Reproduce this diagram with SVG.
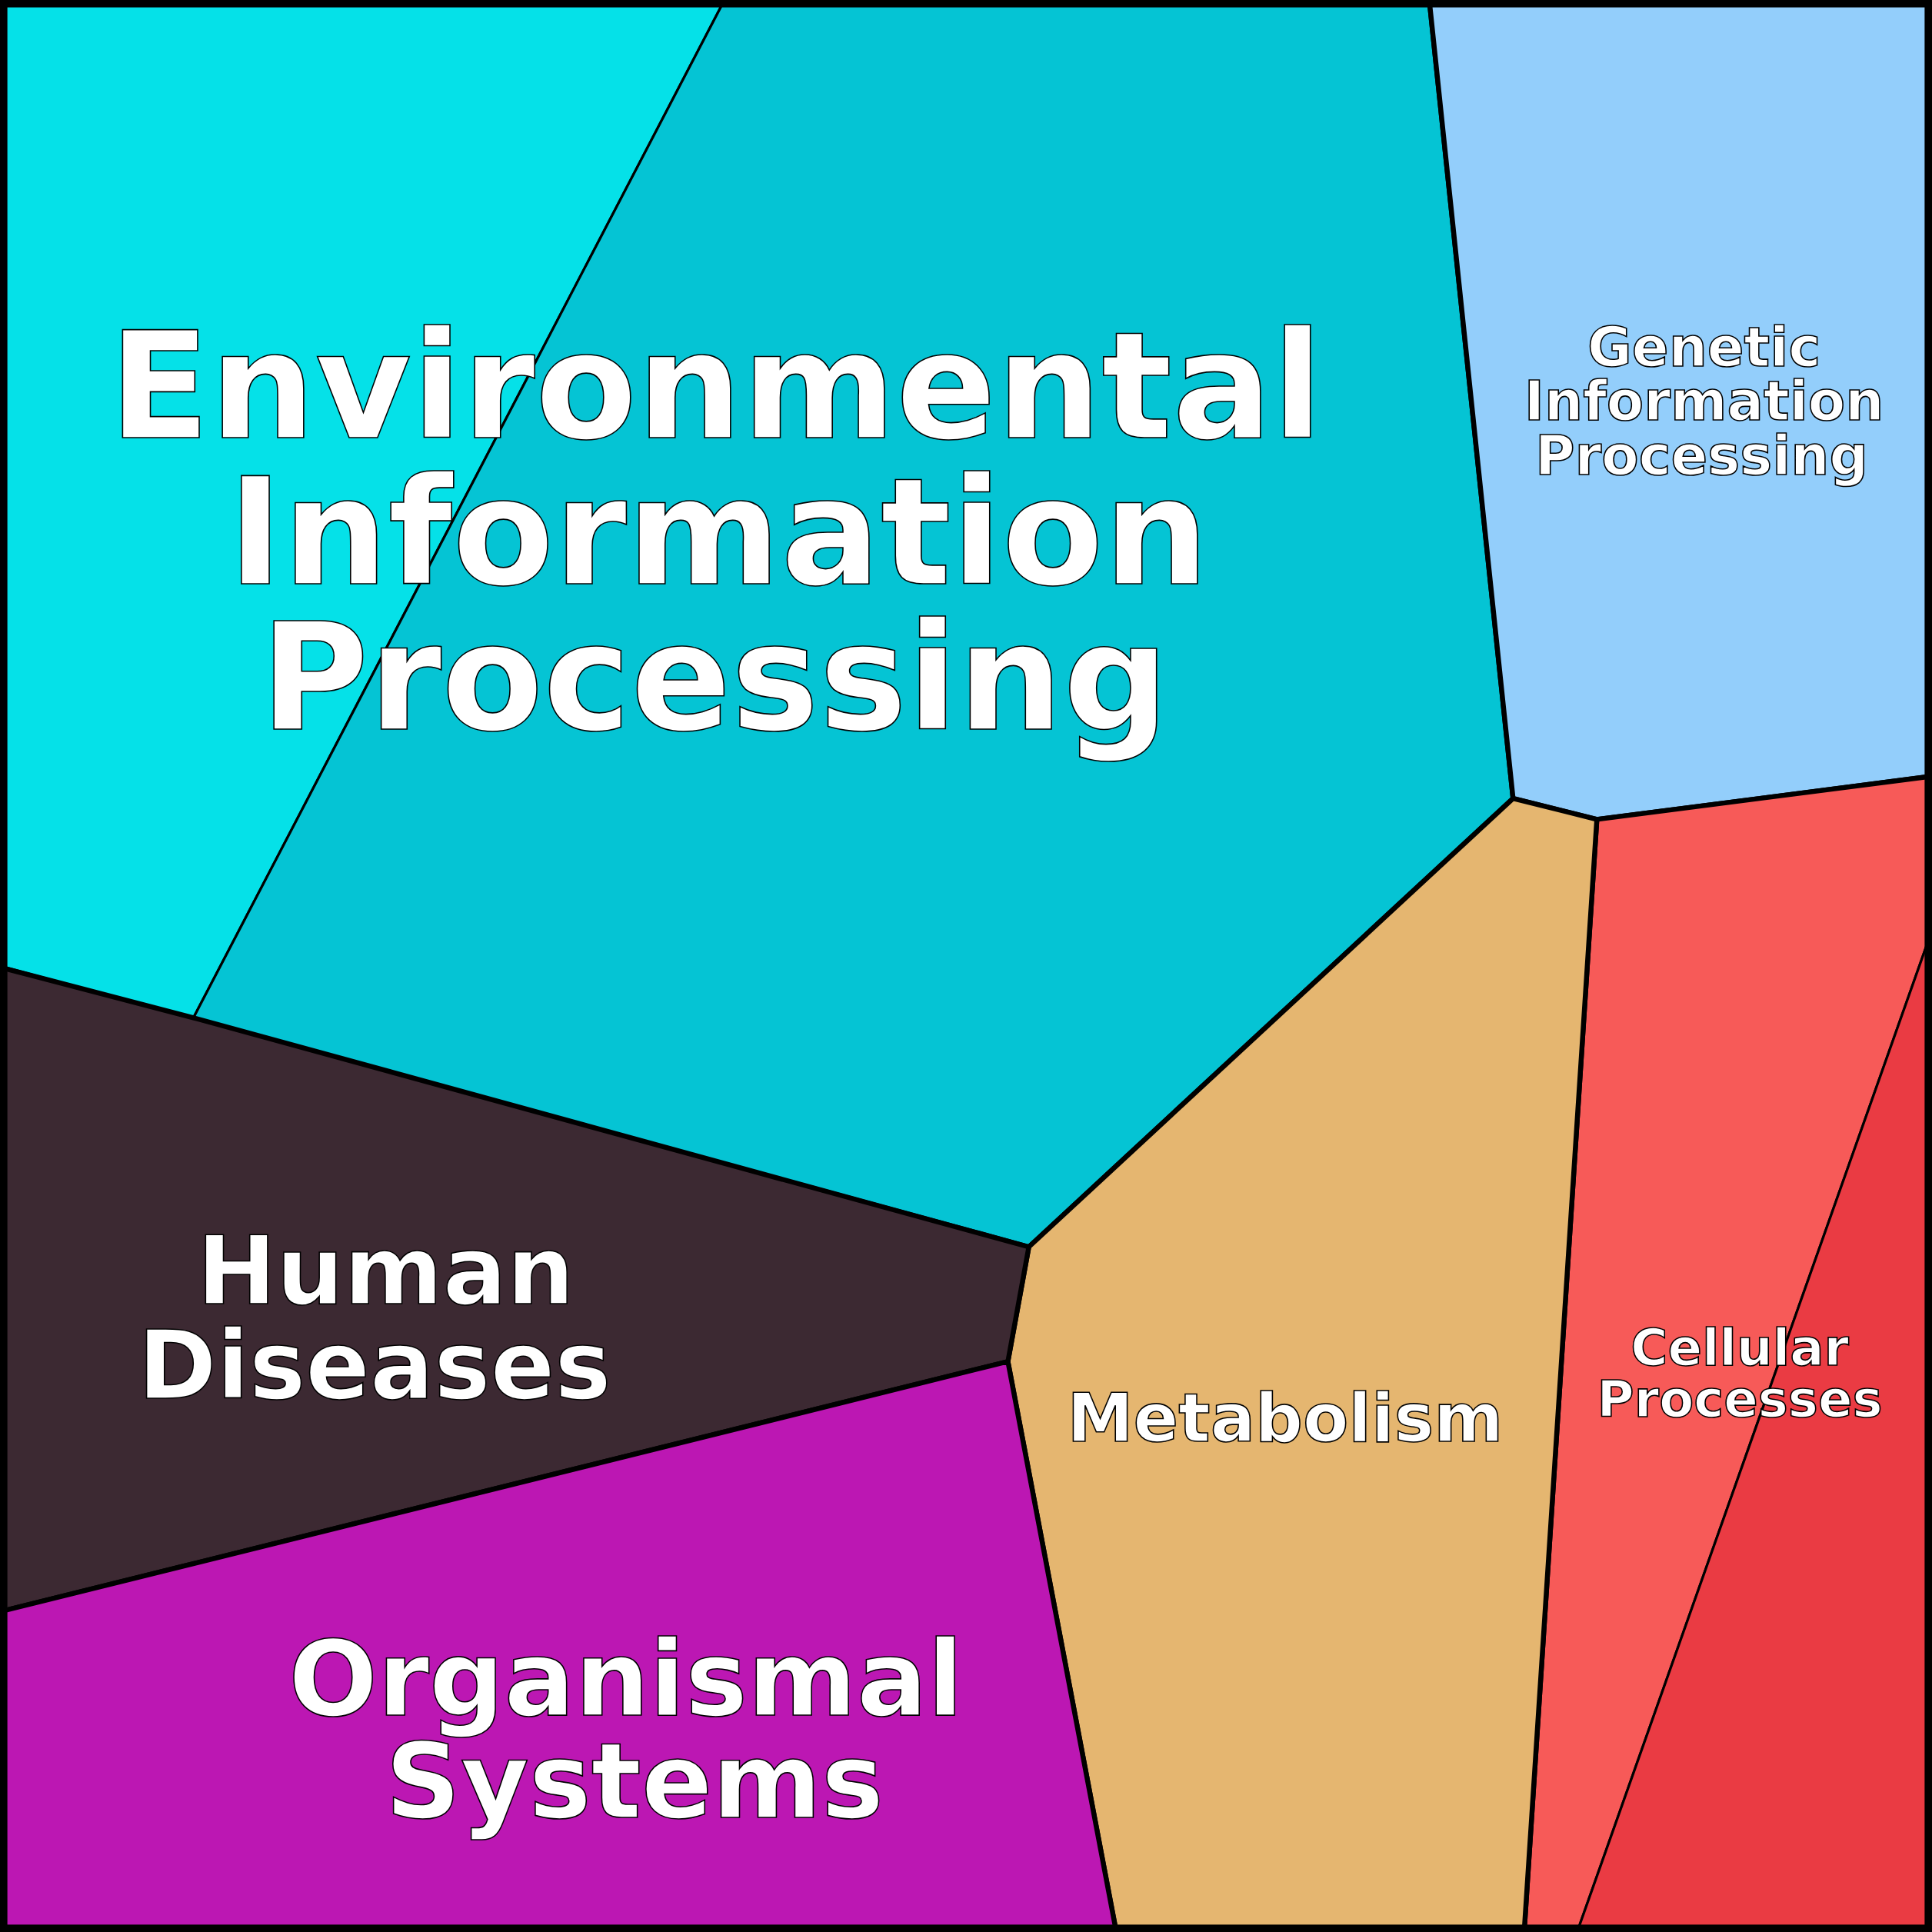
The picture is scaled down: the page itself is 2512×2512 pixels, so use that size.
<svg xmlns="http://www.w3.org/2000/svg" width="2512" height="2512" viewBox="0 0 2512 2512">
<style>
.c{stroke:#000;stroke-width:4;stroke-linejoin:round}
.t{stroke:#000;stroke-width:2}
.l{font-family:"DejaVu Sans",sans-serif;font-weight:bold;fill:#fff;stroke:#000;stroke-width:1;text-anchor:middle}
</style>
<g transform="scale(1.60204)">
<g id="env">
<polygon points="0,0 588,0 157,826 0,785" fill="#05E1E8" class="t"/>
<polygon points="588,0 1160,0 1228,648 835,1012 157,826" fill="#05C4D4" class="t"/>
<path d="M1160,0 L1228,648 L835,1012 L0,785" fill="none" class="c"/>
</g>
<g id="genetic"><polygon points="1160,0 1568,0 1568,630 1296,665 1228,648" fill="#93CEFB" class="c"/></g>
<g id="cellular">
<polygon points="1296,665 1568,630 1568,755 1280,1568 1237,1568" fill="#F75A58" class="t"/>
<polygon points="1568,755 1568,1568 1280,1568" fill="#EA3B43" class="t"/>
<path d="M1296,665 L1568,630 M1296,665 L1237,1568" fill="none" class="c"/>
</g>
<g id="metabolism"><polygon points="1228,648 1296,665 1237,1568 906,1568 818,1105 835,1012" fill="#E5B670" class="c"/></g>
<g id="human"><polygon points="0,785 157,826 835,1012 818,1105 0,1308" fill="#3C2932" class="c"/></g>
<g id="organismal"><polygon points="0,1308 818,1105 906,1568 0,1568" fill="#BC17B3" class="c"/></g>
<g id="labels">
<text class="l" font-size="120"><tspan x="581" y="355">Environmental</tspan><tspan x="583" y="474">Information</tspan><tspan x="580" y="592">Processing</tspan></text>
<text class="l" font-size="44"><tspan x="1383" y="297">Genetic</tspan><tspan x="1383" y="341">Information</tspan><tspan x="1381" y="385">Processing</tspan></text>
<text class="l" font-size="77"><tspan x="313" y="1058">Human</tspan><tspan x="304" y="1135">Diseases</tspan></text>
<text class="l" font-size="85"><tspan x="508" y="1392">Organismal</tspan><tspan x="515" y="1475">Systems</tspan></text>
<text class="l" font-size="54" x="1043" y="1170">Metabolism</text>
<text class="l" font-size="41"><tspan x="1412" y="1108">Cellular</tspan><tspan x="1412" y="1150">Processes</tspan></text>
</g>
<rect x="3" y="3" width="1562" height="1562" fill="none" stroke="#000" stroke-width="6"/>
</g>
</svg>
